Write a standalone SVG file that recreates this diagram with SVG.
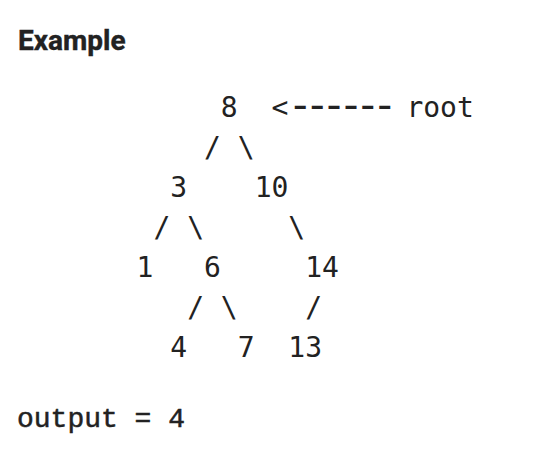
<svg xmlns="http://www.w3.org/2000/svg" width="560" height="456" viewBox="0 0 560 456">
<style>
.m{font-family:"DejaVu Sans Mono",monospace;font-size:28px;fill:#222;text-anchor:middle}
.s{text-anchor:start}
.dl{font-family:"Liberation Mono",monospace;font-size:40px;letter-spacing:-7.14px}
.t{font-family:Roboto,"Liberation Sans",sans-serif;font-weight:700;font-size:28px;fill:#222;stroke:#222;stroke-width:0.4px}
.o{font-family:"Liberation Mono",monospace;font-size:28px;fill:#222;stroke:#222;stroke-width:0.5px}
</style>
<rect width="560" height="456" fill="#fff"/>
<text id="title" class="t" x="18" y="50">Example</text>
<g id="connectors">
<text class="m s" x="271.5" y="117">&lt;<tspan class="dl" dy="1">------</tspan></text>
<text class="m" x="212.4" y="157">/</text>
<text class="m" x="246.2" y="157">\</text>
<text class="m" x="161.9" y="237">/</text>
<text class="m" x="195.6" y="237">\</text>
<text class="m" x="296.7" y="237">\</text>
<text class="m" x="195.6" y="317">/</text>
<text class="m" x="229.3" y="317">\</text>
<text class="m" x="313.6" y="317">/</text>
</g>
<g id="n8"><text class="m" x="229.3" y="117">8</text></g>
<g id="root"><text class="m s" x="406.4" y="117">root</text></g>
<g id="n3"><text class="m" x="178.7" y="197">3</text></g>
<g id="n10"><text class="m" x="271.5" y="197">10</text></g>
<g id="n1"><text class="m" x="145" y="277">1</text></g>
<g id="n6"><text class="m" x="212.4" y="277">6</text></g>
<g id="n14"><text class="m" x="322" y="277">14</text></g>
<g id="n4"><text class="m" x="178.7" y="357">4</text></g>
<g id="n7"><text class="m" x="246.2" y="357">7</text></g>
<g id="n13"><text class="m" x="305.2" y="357">13</text></g>
<text id="output" class="o" x="17" y="427" xml:space="preserve">output = 4</text>
</svg>
